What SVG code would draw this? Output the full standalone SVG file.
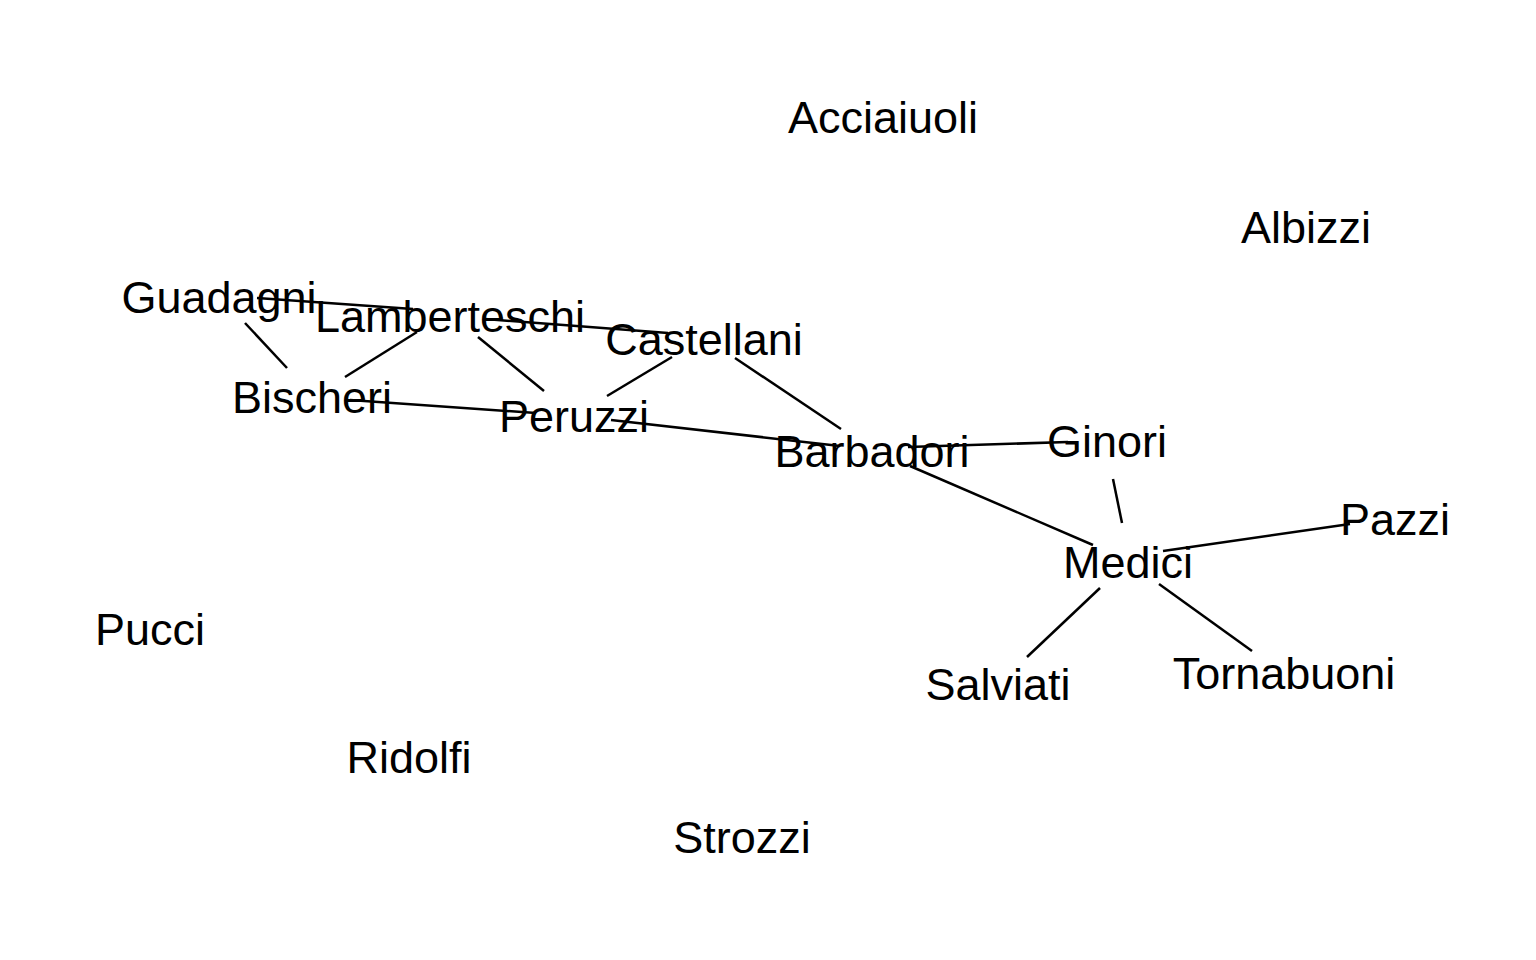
<svg xmlns="http://www.w3.org/2000/svg" width="1536" height="960" viewBox="0 0 1536 960">
<style>
.lbl{font-family:"Liberation Sans",Arial,sans-serif;font-size:45px;fill:#000;text-anchor:middle}
.e{stroke:#000;stroke-width:2.5;fill:none}
</style>
<rect width="1536" height="960" fill="#fff"/>
<g id="edges">
<line class="e" x1="257" y1="298" x2="413" y2="309"/>
<line class="e" x1="485" y1="319" x2="668" y2="333"/>
<line class="e" x1="345" y1="377" x2="417" y2="332"/>
<line class="e" x1="245" y1="323" x2="287" y2="368"/>
<line class="e" x1="478" y1="337" x2="544" y2="391"/>
<line class="e" x1="607" y1="396" x2="672" y2="357"/>
<line class="e" x1="735" y1="358" x2="841" y2="429"/>
<line class="e" x1="350" y1="400" x2="536" y2="413"/>
<line class="e" x1="611" y1="420" x2="840" y2="446"/>
<line class="e" x1="908" y1="447" x2="1068" y2="442"/>
<line class="e" x1="910" y1="466" x2="1093" y2="545"/>
<line class="e" x1="1113" y1="479" x2="1122" y2="523"/>
<line class="e" x1="1163" y1="551" x2="1350" y2="524"/>
<line class="e" x1="1100" y1="588" x2="1027" y2="657"/>
<line class="e" x1="1159" y1="584" x2="1252" y2="651"/>
</g>
<g id="Acciaiuoli"><text class="lbl" x="883" y="133">Acciaiuoli</text></g>
<g id="Albizzi"><text class="lbl" x="1306" y="243">Albizzi</text></g>
<g id="Guadagni"><text class="lbl" x="219" y="313">Guadagni</text></g>
<g id="Lamberteschi"><text class="lbl" x="450" y="332">Lamberteschi</text></g>
<g id="Castellani"><text class="lbl" x="704" y="355">Castellani</text></g>
<g id="Bischeri"><text class="lbl" x="312" y="413">Bischeri</text></g>
<g id="Peruzzi"><text class="lbl" x="574" y="432">Peruzzi</text></g>
<g id="Barbadori"><text class="lbl" x="872" y="467">Barbadori</text></g>
<g id="Ginori"><text class="lbl" x="1107" y="457">Ginori</text></g>
<g id="Pazzi"><text class="lbl" x="1395" y="535">Pazzi</text></g>
<g id="Medici"><text class="lbl" x="1128" y="578">Medici</text></g>
<g id="Pucci"><text class="lbl" x="150" y="645">Pucci</text></g>
<g id="Salviati"><text class="lbl" x="998" y="700">Salviati</text></g>
<g id="Tornabuoni"><text class="lbl" x="1284" y="689">Tornabuoni</text></g>
<g id="Ridolfi"><text class="lbl" x="409" y="773">Ridolfi</text></g>
<g id="Strozzi"><text class="lbl" x="742" y="853">Strozzi</text></g>
</svg>
